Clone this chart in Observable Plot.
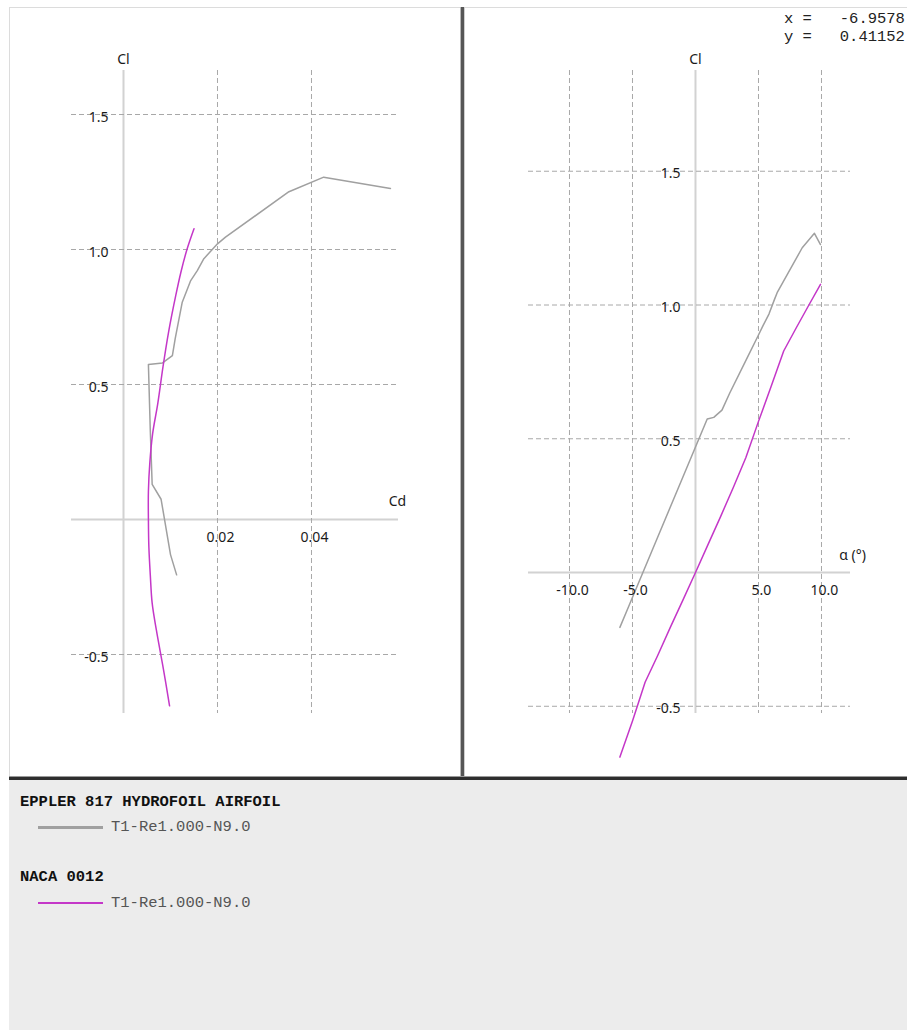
<!DOCTYPE html>
<html><head><meta charset="utf-8">
<script src="https://cdn.jsdelivr.net/npm/d3@7"></script>
<script src="https://cdn.jsdelivr.net/npm/@observablehq/plot@0.6"></script>
<style>
html,body{margin:0;padding:0;background:#fff;}
#root{position:relative;width:907px;height:1030px;overflow:hidden;background:#fff;}
.abs{position:absolute;}
.mono{font-family:"Liberation Mono","Courier New",monospace;font-size:15.5px;white-space:pre;line-height:18px;}
svg{overflow:visible;}
</style></head><body><div id="root"></div>
<script>
// ---- data ----
const seriesNames = ["EPPLER 817 HYDROFOIL AIRFOIL", "NACA 0012"];
const polarName = "T1-Re1.000-N9.0";

const epplerAlpha = [-6.0, -5.33, -3.51, -3.02, -1.24, 0.93, 1.45, 2.1, 2.71, 4.13, 4.97, 5.35, 5.83, 6.27, 6.48, 8.47, 9.44, 9.92];
const epplerCl    = [-0.205, -0.13, 0.075, 0.13, 0.33, 0.574, 0.58, 0.607, 0.67, 0.805, 0.885, 0.922, 0.966, 1.021, 1.046, 1.214, 1.268, 1.226];
const epplerCd    = [0.0113, 0.0100, 0.0080, 0.0061, 0.0057, 0.0053, 0.0083, 0.0104, 0.0110, 0.0125, 0.0143, 0.0157, 0.0171, 0.0200, 0.0217, 0.0352, 0.0426, 0.0568];

const nacaAlpha = [-6, -5, -4, -3, -2, -1, 0, 1, 2, 3, 4, 5, 6, 7, 8, 9, 9.92];
const nacaCl    = [-0.69, -0.555, -0.41, -0.31, -0.205, -0.103, 0, 0.105, 0.21, 0.318, 0.43, 0.565, 0.695, 0.828, 0.915, 1.0, 1.077];
const nacaCd    = [0.0098, 0.0085, 0.0070, 0.0061, 0.0057, 0.0054, 0.0053, 0.0053, 0.0056, 0.0062, 0.0073, 0.0084, 0.0096, 0.0111, 0.0122, 0.0135, 0.0150];

const clTicks = [-0.5, 0.5, 1.0, 1.5];
const cdTicks = [0.02, 0.04];
const alphaTicks = [-10, -5, 5, 10];

const readoutX = "-6.9578";
const readoutY = "0.41152";

// ---- styles ----
const colors = ["#a0a0a0", "#c437c8"];
const gridStyle = {stroke: "#a8a8a8", strokeWidth: 1, strokeDasharray: "5,3"};
const axisStyle = {stroke: "#d2d2d2", strokeWidth: 2};
const labelFont = {fontFamily: "'Noto Sans', 'Open Sans', sans-serif", fontSize: 14, fill: "#1a1a1a"};

const epplerRows = epplerAlpha.map((a, i) => ({alpha: a, cl: epplerCl[i], cd: epplerCd[i]}));
const nacaRows = nacaAlpha.map((a, i) => ({alpha: a, cl: nacaCl[i], cd: nacaCd[i]}));

const root = document.getElementById("root");
function box(css, text, cls) {
  const d = document.createElement("div");
  d.className = cls ? "abs " + cls : "abs";
  d.style.cssText = css;
  if (text != null) d.textContent = text;
  root.appendChild(d);
  return d;
}

function panel({width, height, mL, mR, mT, mB, xDomain, yDomain, xKey, xTicks, xFmt, xTitle, xTitleDx, xTitleDy, curves, yLabelDy}) {
  return Plot.plot({
    width, height,
    marginLeft: mL, marginRight: mR, marginTop: mT, marginBottom: mB,
    x: {domain: xDomain, axis: null},
    y: {domain: yDomain, axis: null},
    style: {background: "transparent", overflow: "visible"},
    marks: [
      Plot.ruleY([0], axisStyle),
      Plot.ruleX([0], axisStyle),
      Plot.ruleY(clTicks, gridStyle),
      Plot.ruleX(xTicks, gridStyle),
      ...curves.map(c => Plot.line(c.rows, {x: xKey, y: "cl", stroke: c.color, strokeWidth: 1.5, curve: c.curve || "linear"})),
      Plot.text(clTicks, {x: 0, y: d => d, text: d => d.toFixed(1), textAnchor: "end", dx: -15, dy: yLabelDy, ...labelFont}),
      Plot.text(xTicks, {x: d => d, y: 0, text: xFmt, textAnchor: "middle", dx: 3, dy: 18, ...labelFont}),
      Plot.text(["Cl"], {x: 0, y: yDomain[1], text: d => d, textAnchor: "middle", dy: -11, ...labelFont}),
      Plot.text([xTitle], {x: xDomain[1], y: 0, text: d => d, textAnchor: "middle", dx: xTitleDx, dy: xTitleDy, ...labelFont})
    ]
  });
}

// outer light border
box("left:9px;top:7px;width:910px;height:770px;border-left:1px solid #dcdcdc;border-top:1px solid #dcdcdc;box-sizing:border-box;");

// left panel: Cl vs Cd
const left = panel({
  width: 451, height: 769, mL: 62, mR: 62, mT: 63, mB: 63,
  xDomain: [-0.011064, 0.058511], yDomain: [-0.7185, 1.663],
  xKey: "cd", xTicks: cdTicks, xFmt: d => d.toFixed(2),
  xTitle: "Cd", xTitleDx: -1, xTitleDy: -18, yLabelDy: 3,
  curves: [
    {rows: epplerRows, color: colors[0]},
    {rows: nacaRows, color: colors[1], curve: "catmull-rom"}
  ]
});
box("left:9px;top:7px;width:451px;height:769px;").appendChild(left);

// right panel: Cl vs alpha
const right = panel({
  width: 442, height: 769, mL: 63, mR: 57, mT: 63, mB: 63,
  xDomain: [-13.254, 12.302], yDomain: [-0.527, 1.8766],
  xKey: "alpha", xTicks: alphaTicks, xFmt: d => d.toFixed(1),
  xTitle: "α (°)", xTitleDx: 2, xTitleDy: -17, yLabelDy: 2.5,
  curves: [
    {rows: epplerRows, color: colors[0]},
    {rows: nacaRows, color: colors[1]}
  ]
});
box("left:465px;top:7px;width:442px;height:769px;").appendChild(right);

// vertical divider
box("left:460px;top:7px;width:1px;height:770px;background:#b8b8b8;");
box("left:461px;top:7px;width:3px;height:770px;background:#565656;");
box("left:464px;top:7px;width:1px;height:770px;background:#cfcfcf;");

// cursor readout
box("left:784px;top:10px;color:#222;", "x =   " + readoutX + "\ny =   " + readoutY, "mono");

// bottom divider and legend area
box("left:9px;top:776px;width:900px;height:1px;background:#9a9a9a;");
box("left:9px;top:777px;width:900px;height:3px;background:#2e2e2e;");
box("left:9px;top:780px;width:900px;height:250px;background:#ececec;");

seriesNames.forEach((name, i) => {
  const base = 801.7 + i * 75.6;
  box(`left:20px;top:${base - 9}px;font-weight:bold;color:#111;`, name, "mono");
  box(`left:38px;top:${base + 25.6 - 1.25}px;width:65px;height:2.5px;background:${colors[i]};`);
  box(`left:111px;top:${base + 25.6 - 9}px;color:#555;`, polarName, "mono");
});
</script>
</body></html>
